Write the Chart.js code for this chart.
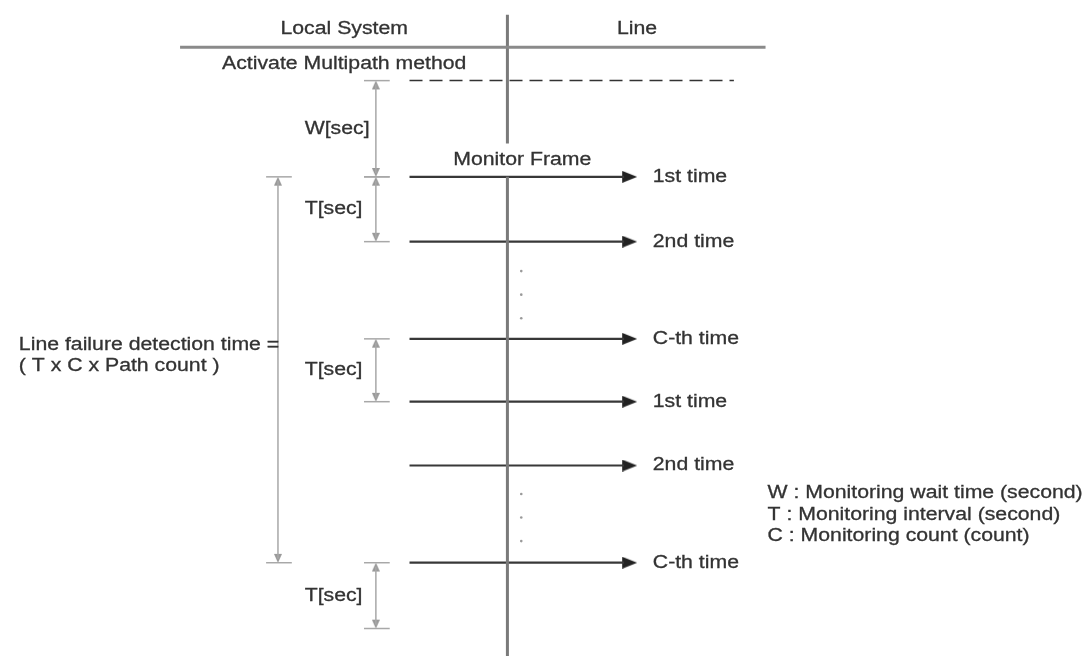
<!DOCTYPE html>
<html>
<head>
<meta charset="utf-8">
<script src="https://cdn.jsdelivr.net/npm/chart.js@4.4.0/dist/chart.umd.min.js"></script>
<style>
  html, body { margin: 0; padding: 0; background: #fff; }
  #wrap { width: 1089px; height: 662px; }
</style>
</head>
<body>
<div id="wrap"><canvas id="diagram"></canvas></div>
<script>
// timeline runs top to bottom (y), diagram columns along x
const frameRows = [174, 240, 339, 403, 468, 567];
const frameLabels = ['1st time', '2nd time', 'C-th time', '1st time', '2nd time', 'C-th time'];
const ellipsisRows = [270, 294, 318, 497, 521, 545];
const spanStarts = [76, 174, 339, 567];
const spanEnds = [174, 240, 403, 634];
const spanLabels = ['W[sec]', 'T[sec]', 'T[sec]', 'T[sec]'];
const totalSpan = [174, 567];
const totalLabel = ['Line failure detection time =', '( T x C x Path count )'];
const headers = ['Local System', 'Line'];
const legendLines = [
    'W : Monitoring wait time (second)',
    'T : Monitoring interval (second)',
    'C : Monitoring count (count)'
];

// columns
const W = 1089, H = 662;
const sysX = 507, frameX0 = 408, arrowBaseX = 623, labelX = 654;
const dimX = 374, totalX = 275, dotX = 521;
const headerY = 42, startY = 76;

const ink = '#333';
const dimGrey = '#a8a8a8';

function arrowHead(len, wid, color) {
    // drawn pointing right, base on the canvas centre
    let c = document.createElement('canvas');
    c.width = len * 2;
    c.height = wid;
    let g = c.getContext('2d');
    g.fillStyle = color;
    g.beginPath();
    g.moveTo(len, 0);
    g.lineTo(len * 2, wid / 2);
    g.lineTo(len, wid);
    g.closePath();
    g.fill();
    return c;
}
const bigHead = arrowHead(15, 12, '#222');
const smallHead = arrowHead(9, 8, '#999');

function seg(x0, y0, x1, y1, color, width, dash) {
    return {
        type: 'line',
        data: [{x: x0, y: y0}, {x: x1, y: y1}],
        borderColor: color,
        borderWidth: width,
        borderDash: dash || [],
        pointRadius: 0,
        showLine: true
    };
}

function heads(points, img) {
    return {
        type: 'scatter',
        data: points.map(p => ({x: p.x, y: p.y})),
        pointStyle: img,
        pointRadius: 5,
        rotation: points.map(p => p.r),
        showLine: false
    };
}

let datasets = [];
// header and system line
datasets.push(seg(176, headerY, 768, headerY, '#8a8a8a', 3));
datasets.push(seg(sysX, 9, sysX, 140, '#7a7a7a', 3));
datasets.push(seg(sysX, frameRows[0], sysX, H, '#7a7a7a', 3));
// activation dashed line
datasets.push(seg(frameX0, startY, 736, startY, '#333', 1.5, [13, 7]));

// monitor frames
frameRows.forEach(y => datasets.push(seg(frameX0, y, arrowBaseX + 2, y, '#383838', 2.2)));
datasets.push(heads(frameRows.map(y => ({x: arrowBaseX, y: y, r: 0})), bigHead));

// dimension spans
let smallPts = [];
spanStarts.forEach((a, i) => {
    let b = spanEnds[i];
    datasets.push(seg(dimX, a + 4, dimX, b - 4, dimGrey, 1.5));
    datasets.push(seg(362, a, 388, a, dimGrey, 1.5));
    datasets.push(seg(362, b, 388, b, dimGrey, 1.5));
    smallPts.push({x: dimX, y: a + 9, r: -90});
    smallPts.push({x: dimX, y: b - 9, r: 90});
});
// total detection span
datasets.push(seg(totalX, totalSpan[0] + 4, totalX, totalSpan[1] - 4, dimGrey, 1.5));
datasets.push(seg(263, totalSpan[0], 289, totalSpan[0], dimGrey, 1.5));
datasets.push(seg(263, totalSpan[1], 289, totalSpan[1], dimGrey, 1.5));
smallPts.push({x: totalX, y: totalSpan[0] + 9, r: -90});
smallPts.push({x: totalX, y: totalSpan[1] - 9, r: 90});
datasets.push(heads(smallPts, smallHead));

// ellipsis dots
datasets.push({
    type: 'scatter',
    data: ellipsisRows.map(y => ({x: dotX, y: y})),
    pointRadius: 1.3,
    pointBorderWidth: 0,
    pointBackgroundColor: '#9a9a9a',
    showLine: false
});

const textPlugin = {
    id: 'diagramText',
    afterDatasetsDraw(chart) {
        const ctx = chart.ctx;
        const sx = chart.scales.x, sy = chart.scales.y;
        function txt(s, x, y, align) {
            ctx.save();
            ctx.translate(sx.getPixelForValue(x), sy.getPixelForValue(y));
            ctx.scale(1.18, 1);
            ctx.font = '18px "Liberation Sans", Arial, sans-serif';
            ctx.fillStyle = ink;
            ctx.strokeStyle = ink;
            ctx.lineWidth = 0.3;
            ctx.textAlign = align || 'left';
            ctx.textBaseline = 'middle';
            ctx.fillText(s, 0, 0);
            ctx.strokeText(s, 0, 0);
            ctx.restore();
        }
        txt(headers[0], 342, 23, 'center');
        txt(headers[1], 638, 23, 'center');
        txt('Activate Multipath method', 342, 59, 'center');
        txt('Monitor Frame', 522, 157, 'center');
        frameRows.forEach((y, i) => txt(frameLabels[i], labelX, y, 'left'));
        spanStarts.forEach((a, i) => txt(spanLabels[i], 302, (a + spanEnds[i]) / 2, 'left'));
        txt(totalLabel[0], 13, 345, 'left');
        txt(totalLabel[1], 13, 367, 'left');
        legendLines.forEach((s, i) => txt(s, 770, 496 + i * 22, 'left'));
    }
};

new Chart(document.getElementById('diagram'), {
    type: 'scatter',
    data: { datasets },
    options: {
        responsive: true,
        maintainAspectRatio: false,
        animation: false,
        events: [],
        layout: { padding: 0 },
        plugins: { legend: { display: false }, tooltip: { enabled: false } },
        scales: {
            x: { type: 'linear', min: 0, max: W, display: false },
            y: { type: 'linear', min: 0, max: H, reverse: true, display: false }
        }
    },
    plugins: [textPlugin]
});
</script>
</body>
</html>
